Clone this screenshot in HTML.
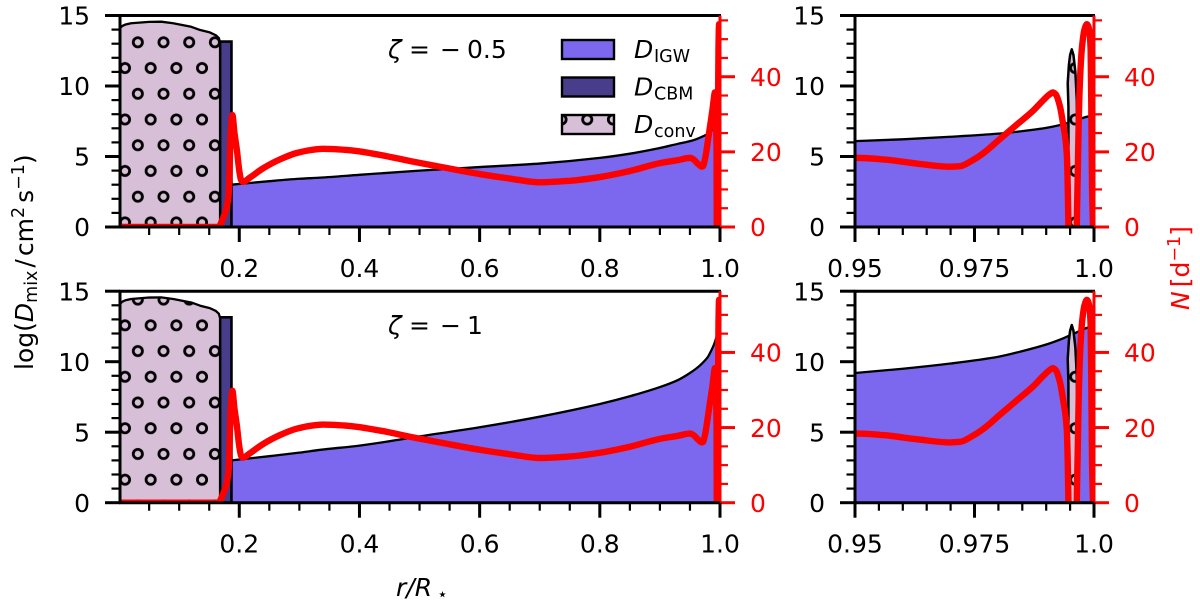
<!DOCTYPE html>
<html>
<head>
<meta charset="utf-8">
<title>Mixing profiles</title>
<style>
html,body{margin:0;padding:0;background:#fff;width:1200px;height:602px;overflow:hidden}
svg{display:block}
text{font-family:"DejaVu Sans","Liberation Sans",sans-serif;font-size:25px;fill:#000}
</style>
</head>
<body>
<svg id="chart" xmlns="http://www.w3.org/2000/svg" width="1200" height="602" viewBox="0 0 1200 602">
<defs>
<pattern id="hatch" patternUnits="userSpaceOnUse" x="112.16" y="29.43" width="25.68" height="51.46">
<rect width="25.68" height="51.46" fill="#d8bfd8"/>
<circle cx="12.84" cy="38.6" r="4.6" fill="none" stroke="#000" stroke-width="2.8"/>
<circle cx="0" cy="12.87" r="4.6" fill="none" stroke="#000" stroke-width="2.8"/>
<circle cx="25.68" cy="12.87" r="4.6" fill="none" stroke="#000" stroke-width="2.8"/>
</pattern>
</defs>
<g id="plots"></g>

<g>
<rect x="562" y="40" width="52" height="19" fill="#7b68ee" stroke="#000" stroke-width="2.4"/>
<rect x="562" y="77.5" width="52" height="19" fill="#483d8b" stroke="#000" stroke-width="2.4"/>
<rect x="562" y="115" width="52" height="19" fill="url(#hatch)" stroke="#000" stroke-width="2.4"/>
<text x="634" y="58"><tspan font-style="italic">D</tspan><tspan x="654" y="62" style="font-size:17.5px">IGW</tspan></text>
<text x="634" y="95.5"><tspan font-style="italic">D</tspan><tspan x="654" y="99.5" style="font-size:17.5px">CBM</tspan></text>
<text x="634" y="133"><tspan font-style="italic">D</tspan><tspan x="654" y="137" style="font-size:17.5px">conv</tspan></text>
</g>

<text y="58"><tspan x="388" font-style="italic">ζ</tspan><tspan x="409">=</tspan><tspan x="440">−</tspan><tspan x="467">0.5</tspan></text>
<text y="334"><tspan x="388" font-style="italic">ζ</tspan><tspan x="409">=</tspan><tspan x="440">−</tspan><tspan x="467">1</tspan></text>

<text x="396" y="596"><tspan font-style="italic">r/R</tspan><tspan x="437" y="600" style="font-size:17.5px">⋆</tspan></text>

<text transform="translate(33,370) rotate(-90)">log(<tspan font-style="italic">D</tspan><tspan dy="4" style="font-size:17.5px">mix</tspan><tspan dy="-4" dx="3">/</tspan><tspan dx="3">cm</tspan><tspan dy="-9" style="font-size:17.5px">2</tspan><tspan dy="9" dx="4">s</tspan><tspan dy="-9" style="font-size:17.5px">−1</tspan><tspan dy="9">)</tspan></text>

<text transform="translate(1189,310) rotate(-90)" style="fill:#f00"><tspan font-style="italic" style="fill:#f00">N</tspan><tspan dx="4" style="fill:#f00">[d</tspan><tspan dy="-9" style="font-size:17.5px;fill:#f00">−1</tspan><tspan dy="9" style="fill:#f00">]</tspan></text>
</svg>

<script>
// Buoyancy frequency profile, shared by every panel
const nRadius = [0.0015,0.165,0.172,0.182,0.186,0.1885,0.192,0.196,0.2,0.203,0.206,0.218,0.2394,0.2677,0.2955,0.32,0.339,0.3787,0.434,0.489,0.545,0.6,0.65,0.7,0.75,0.8,0.85,0.9,0.93,0.9504,0.9559,0.9629,0.9699,0.972,0.9745,0.9768,0.9803,0.9838,0.9873,0.9895,0.9907,0.9914,0.992,0.9928,0.9935,0.9943,0.99465,0.9948,0.9963,0.9964,0.9966,0.9968,0.9971,0.9975,0.998,0.9985,0.999,0.9993,0.99945,0.9996,0.9998];
const nValues = [0,0,2,8,26,29.8,25,20.5,15,12.5,12,13.2,15.6,18,19.7,20.5,20.8,20.5,19.2,17.4,15.7,14.1,12.9,11.9,12.3,13.3,14.9,17,17.8,18.4,18,16.9,16.05,16.2,17.7,19.6,23.4,27.2,31,33.9,35.3,35.8,35.3,32.5,27.7,19.6,0,-20,-20,0,14,28,40,48,52.5,54,52.5,47,30,10,0];

// IGW mixing profile, one series per zeta value
const igwRadius = [0.187,0.25,0.3,0.335,0.4,0.5,0.6,0.7,0.8,0.85,0.9,0.93,0.95,0.96,0.97,0.98,0.985,0.99,0.9937,0.9965,0.9985,0.9998];
const igwTop = [3,3.25,3.42,3.5,3.7,4,4.25,4.5,4.9,5.2,5.6,5.9,6.09,6.22,6.4,6.62,6.8,7.03,7.3,7.6,7.82,7.9];
const igwBottom = [3,3.3,3.55,3.75,4.05,4.7,5.35,6.1,7,7.55,8.2,8.7,9.2,9.5,9.87,10.35,10.75,11.22,11.68,12.1,12.4,12.5];

// Convective core profile
const coreRadius = [0.0015,0.005,0.01,0.02,0.05,0.07,0.09,0.12,0.135,0.151,0.161,0.166,0.168];
const coreValues = [14.1,14.25,14.35,14.45,14.55,14.56,14.45,14.2,13.97,13.8,13.6,13.4,13.1];

// Near-surface convective zone
const surfaceRadius = [0.99465,0.9945,0.99475,0.995,0.99535,0.9957,0.9961,0.9964,0.9965];
const surfaceValues = [8.5,10.2,11.5,12.2,12.6,12.2,11,9,6];

// Convective boundary mixing step
const cbmRadius = [0.168,0.187];
const cbmValue = [13.15,13.15];

// Tick labels
const wideTicks = [0.2,0.4,0.6,0.8,1.0];
const wideTickLabels = ['0.2','0.4','0.6','0.8','1.0'];
const zoomTicks = [0.95,0.975,1.0];
const zoomTickLabels = ['0.95','0.975','1.0'];
const mixTicks = [0,5,10,15];
const mixTickLabels = ['0','5','10','15'];
const freqTicks = [0,20,40];
const freqTickLabels = ['0','20','40'];

const NS = 'http://www.w3.org/2000/svg';
const root = document.getElementById('plots');

function make(parent, tag, attrs, text) {
  const el = document.createElementNS(NS, tag);
  for (const k in attrs) el.setAttribute(k, attrs[k]);
  if (text !== undefined) el.textContent = text;
  parent.appendChild(el);
  return el;
}

// Smooth monotone cubic through x-ordered points; returns path commands after the first point
function smoothSegments(xs, ys) {
  const n = xs.length;
  const h = [], d = [], m = [];
  for (let i = 0; i < n - 1; i++) {
    h[i] = Math.max(xs[i + 1] - xs[i], 1e-4);
    d[i] = (ys[i + 1] - ys[i]) / h[i];
  }
  m[0] = d[0];
  m[n - 1] = d[n - 2];
  for (let i = 1; i < n - 1; i++) {
    if (d[i - 1] * d[i] <= 0) {
      m[i] = 0;
    } else {
      const w1 = 2 * h[i] + h[i - 1];
      const w2 = h[i] + 2 * h[i - 1];
      m[i] = (w1 + w2) / (w1 / d[i - 1] + w2 / d[i]);
    }
  }
  let out = '';
  for (let i = 0; i < n - 1; i++) {
    const c1x = xs[i] + h[i] / 3, c1y = ys[i] + m[i] * h[i] / 3;
    const c2x = xs[i + 1] - h[i] / 3, c2y = ys[i + 1] - m[i + 1] * h[i] / 3;
    out += ' C' + c1x.toFixed(3) + ' ' + c1y.toFixed(3) + ' ' + c2x.toFixed(3) + ' ' + c2y.toFixed(3) + ' ' + xs[i + 1].toFixed(3) + ' ' + ys[i + 1].toFixed(3);
  }
  return out;
}

function drawPanel(name, box, igwValues) {
  const scaleX = r => box.x0 + (r - box.rMin) / (box.rMax - box.rMin) * (box.x1 - box.x0);
  const scaleMix = v => box.bottom - v * (box.bottom - box.top) / 15;
  const scaleFreq = n => box.bottom - n * (box.bottom - box.top) / 56.3;
  const pts = (rs, vs, fy) => rs.map((r, i) => scaleX(r).toFixed(2) + ',' + fy(vs[i]).toFixed(2));

  const g = make(root, 'g', {});
  
  

  const clipId = 'clip-' + name;
  const clip = make(g, 'clipPath', {id: clipId});
  make(clip, 'rect', {x: box.x0, y: box.top, width: box.x1 - box.x0, height: box.bottom - box.top});
  const inner = make(g, 'g', {'clip-path': 'url(#' + clipId + ')'});

  // IGW fill and top edge
  const igwXs = igwRadius.map(scaleX);
  const igwYs = igwValues.map(scaleMix);
  const igwStart = 'M' + igwXs[0].toFixed(3) + ' ' + igwYs[0].toFixed(3);
  const igwCurve = smoothSegments(igwXs, igwYs);
  const igwFill = make(inner, 'path', {d: 'M' + igwXs[0].toFixed(3) + ' ' + box.bottom + ' L' + igwXs[0].toFixed(3) + ' ' + igwYs[0].toFixed(3) + igwCurve + ' L' + igwXs[igwXs.length - 1].toFixed(3) + ' ' + box.bottom + ' Z', fill: '#7b68ee', stroke: 'none'});
  
  
  const igwEdge = make(inner, 'path', {d: igwStart + igwCurve, fill: 'none', stroke: '#000', 'stroke-width': 2.3});
  
  

  // CBM step
  const cbmTop = pts(cbmRadius, cbmValue, scaleMix).join(' ');
  const cbm = make(inner, 'polygon', {points: scaleX(cbmRadius[0]).toFixed(2) + ',' + (box.bottom + 3) + ' ' + cbmTop + ' ' + scaleX(cbmRadius[1]).toFixed(2) + ',' + (box.bottom + 3), fill: '#483d8b', stroke: '#000', 'stroke-width': 2.6});
  
  

  // Convective core
  const coreTop = pts(coreRadius, coreValues, scaleMix).join(' ');
  const core = make(inner, 'polygon', {points: scaleX(coreRadius[0]).toFixed(2) + ',' + (box.bottom + 3) + ' ' + coreTop + ' ' + scaleX(coreRadius[coreRadius.length - 1]).toFixed(2) + ',' + (box.bottom + 3), fill: 'url(#hatch)', stroke: '#000', 'stroke-width': 2.3, 'stroke-linejoin': 'round'});
  
  

  // Near-surface convective zone
  const surfTop = pts(surfaceRadius, surfaceValues, scaleMix).join(' ');
  const surface = make(inner, 'polygon', {points: scaleX(surfaceRadius[0]).toFixed(2) + ',' + (box.bottom + 3) + ' ' + surfTop + ' ' + scaleX(surfaceRadius[surfaceRadius.length - 1]).toFixed(2) + ',' + (box.bottom + 3), fill: 'url(#hatch)', stroke: '#000', 'stroke-width': 2.5, 'stroke-linejoin': 'round'});
  
  

  // Frequency curve
  const curveXs = nRadius.map(scaleX);
  const curveYs = nValues.map(scaleFreq);
  const curve = make(inner, 'path', {d: 'M' + curveXs[0].toFixed(3) + ' ' + curveYs[0].toFixed(3) + smoothSegments(curveXs, curveYs), fill: 'none', stroke: '#f00', 'stroke-width': 6.4, 'stroke-linejoin': 'round'});
  
  

  // Axis spines
  const spineTop = make(g, 'line', {x1: box.x0 - 1, x2: box.x1 + 1, y1: box.top, y2: box.top, stroke: '#000', 'stroke-width': 3});
  
  
  const spineLeft = make(g, 'line', {x1: box.x0, x2: box.x0, y1: box.top, y2: box.bottom, stroke: '#000', 'stroke-width': 3});
  
  
  const spineRight = make(g, 'line', {x1: box.x1, x2: box.x1, y1: box.top, y2: box.bottom, stroke: '#f00', 'stroke-width': 3});
  
  
  const spineBottom = make(g, 'line', {x1: box.x0 - 1, x2: box.x1 + 1, y1: box.bottom, y2: box.bottom, stroke: '#000', 'stroke-width': 3});
  
  

  // Minor ticks
  for (let v = 0; v <= 15; v += 1) {
    if (v % 5 === 0) continue;
    const t = make(g, 'line', {x1: box.x0 - 8.5, x2: box.x0, y1: scaleMix(v), y2: scaleMix(v), stroke: '#000', 'stroke-width': 2.2});
    
    
  }
  for (let n = 5; n <= 55; n += 5) {
    if (n % 20 === 0) continue;
    const t = make(g, 'line', {x1: box.x1, x2: box.x1 + 8, y1: scaleFreq(n), y2: scaleFreq(n), stroke: '#f00', 'stroke-width': 2.2});
    
    
  }
  for (let i = 1; ; i++) {
    const r = box.minorStart + i * box.minorStep;
    if (r >= box.rMax - 1e-6) break;
    if (box.xTicks.some(m => Math.abs(m - r) < 1e-6)) continue;
    const t = make(g, 'line', {x1: scaleX(r), x2: scaleX(r), y1: box.bottom, y2: box.bottom + 8, stroke: '#000', 'stroke-width': 2.2});
    
    
  }

  // Major ticks and labels
  mixTicks.forEach((v, i) => {
    const t = make(g, 'line', {x1: box.x0 - 15, x2: box.x0, y1: scaleMix(v), y2: scaleMix(v), stroke: '#000', 'stroke-width': 3});
    
    
    const l = make(g, 'text', {x: box.x0 - 30, y: scaleMix(v) + 9.2, 'text-anchor': 'end'}, mixTickLabels[i]);
    
    
  });
  freqTicks.forEach((n, i) => {
    const t = make(g, 'line', {x1: box.x1, x2: box.x1 + 15, y1: scaleFreq(n), y2: scaleFreq(n), stroke: '#f00', 'stroke-width': 3});
    
    
    const l = make(g, 'text', {x: box.x1 + 30, y: scaleFreq(n) + 9.2, style: 'fill:#f00'}, freqTickLabels[i]);
    
    
  });
  box.xTicks.forEach((r, i) => {
    const t = make(g, 'line', {x1: scaleX(r), x2: scaleX(r), y1: box.bottom, y2: box.bottom + 15, stroke: '#000', 'stroke-width': 3});
    
    
    const l = make(g, 'text', {x: scaleX(r), y: box.bottom + 50, 'text-anchor': 'middle'}, box.xLabels[i]);
    
    
  });
}

const wideAxis = {x0: 120, x1: 720, rMin: 0.0015, rMax: 1, xTicks: wideTicks, xLabels: wideTickLabels, minorStart: 0, minorStep: 0.05};
const zoomAxis = {x0: 855, x1: 1094, rMin: 0.95, rMax: 1, xTicks: zoomTicks, xLabels: zoomTickLabels, minorStart: 0.95, minorStep: 0.005};
const upperRow = {top: 15.5, bottom: 227};
const lowerRow = {top: 291.2, bottom: 502.7};

drawPanel('panel-top-left', Object.assign({}, wideAxis, upperRow), igwTop);
drawPanel('panel-top-right', Object.assign({}, zoomAxis, upperRow), igwTop);
drawPanel('panel-bottom-left', Object.assign({}, wideAxis, lowerRow), igwBottom);
drawPanel('panel-bottom-right', Object.assign({}, zoomAxis, lowerRow), igwBottom);
</script>
</body>
</html>
